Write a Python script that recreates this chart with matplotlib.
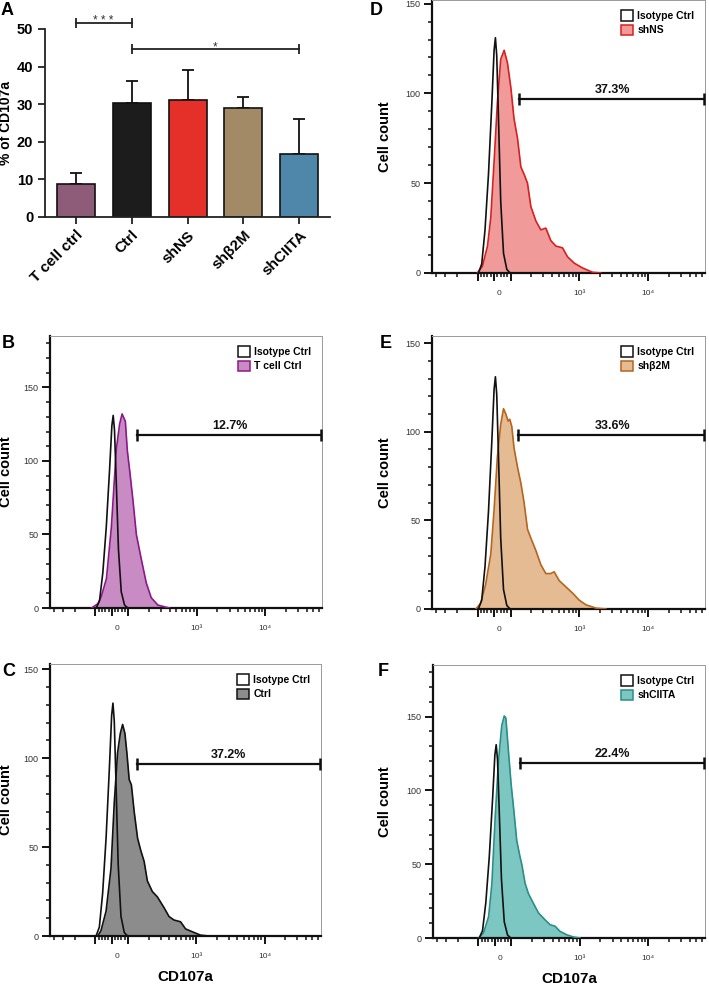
import matplotlib
matplotlib.use('Agg')
import matplotlib.pyplot as plt
import matplotlib.transforms as mtransforms
from matplotlib.patches import Patch
from matplotlib.ticker import FixedLocator, FixedFormatter

plt.rcParams['font.family'] = ['Liberation Sans', 'DejaVu Sans']

# ---- panel A: % CD107a+ T cells ----
groups = ['T cell ctrl', 'Ctrl', 'shNS', 'shβ2M', 'shCIITA']
pct_mean = [8.9, 30.2, 31.1, 29.0, 16.7]
pct_sd = [2.7, 6.1, 7.9, 2.9, 9.4]
bar_colors = ['#8e5b78', '#1c1c1c', '#e5302a', '#a38a66', '#4f87aa']

# ---- flow histograms (CD107a fluorescence, cell count) ----
iso_x = [-95, -75, -55, -34, -14, 0, 8, 16, 26, 40, 57, 77, 97]
iso_n = [0, 5, 24, 55, 94, 124, 131, 121, 88, 40, 11, 2, 0]

tcell_x = [-114, -84, -64, -33, -3, 27, 47, 62, 82, 94, 105, 117, 131, 155, 183, 216, 270, 358, 400]
tcell_n = [0, 3, 8, 20, 55, 108, 125, 132, 127, 107, 93, 73, 50, 33, 17, 7, 2, 0.5, 0]

ctrl_x = [-85, -65, -34, -4, 16, 36, 53, 67, 81, 93, 104, 112, 123, 138, 154, 172, 192, 227, 269,
          336, 398, 470, 588, 696, 870, 1150, 1521]
ctrl_n = [0, 3, 14, 38, 75, 103, 114, 119, 114, 103, 88, 85, 70, 55, 48, 42, 31, 25, 22,
          16, 11, 9, 8, 4, 2.4, 0.5, 0]

shns_x = [-101, -71, -40, -20, 0, 20, 40, 61, 81, 101, 112, 126, 141, 157, 176, 197, 233, 275,
          325, 385, 455, 569, 673, 841, 1112, 1555, 2056]
shns_n = [0, 3.7, 15, 31, 62, 95, 119, 124, 117, 103, 86, 75, 59, 55, 50, 37, 29, 24,
          25, 18, 15, 14, 9, 5.5, 2.8, 0.4, 0]

shb2m_x = [-106, -81, -51, -20, 0, 20, 40, 57, 71, 85, 95, 104, 112, 126, 141, 157, 176, 197,
           233, 275, 325, 385, 430, 509, 636, 795, 994, 1243, 1739, 2431]
shb2m_n = [0, 3.3, 14, 31, 56, 86, 104, 113, 110, 106, 107, 103, 91, 80, 71, 60, 45, 40,
           33, 25, 20, 20, 21, 16, 12.5, 9, 5, 2.4, 0.5, 0]

shciita_x = [-99, -69, -38, -18, 2, 22, 42, 57, 67, 83, 99, 108, 120, 134, 142, 159, 178, 210,
             249, 311, 368, 435, 514, 643, 804, 1006]
shciita_n = [0, 3.4, 14.5, 37, 82, 120, 144, 150.5, 149, 126, 104, 88, 66, 55, 50, 37, 30, 23.5,
             17, 12.3, 9, 8, 4.5, 2.2, 0.7, 0]

# gate: left edge, height, label
gate_lo = [135, 134, 133, 130, 134]
gate_y = [117.5, 96.6, 96.9, 98, 118.5]
gate_pct = ['12.7%', '37.2%', '37.3%', '33.6%', '22.4%']

fig = plt.figure(figsize=(7.09, 9.85), dpi=100)
W, H = 709.0, 985.0


def px_axes(left, top, right, bottom):
    return fig.add_axes([left / W, 1 - bottom / H, (right - left) / W, (bottom - top) / H])


# ---------------- panel A ----------------
axA = px_axes(45, 29, 330, 217)
xs = range(len(groups))
axA.bar(xs, pct_mean, width=0.68, color=bar_colors, edgecolor='#111111', linewidth=1.2, zorder=2)
axA.errorbar(xs, pct_mean, yerr=[[0] * len(pct_sd), pct_sd], fmt='none', ecolor='#111111',
             elinewidth=1.3, capsize=4.5, capthick=1.3, zorder=1)
axA.set_xlim(-0.55, 4.55)
axA.set_ylim(0, 50)
axA.set_yticks([0, 10, 20, 30, 40, 50])
axA.set_xticks(list(xs))
axA.set_xticklabels(groups, rotation=45, ha='right', rotation_mode='anchor',
                    fontsize=11, fontweight='bold')
for lab in axA.get_yticklabels():
    lab.set_fontweight('bold')
    lab.set_fontsize(10.5)
axA.tick_params(axis='both', direction='out', length=5, width=1.3, color='#222222')
axA.tick_params(axis='x', pad=3)
for s in ['top', 'right']:
    axA.spines[s].set_visible(False)
for s in ['left', 'bottom']:
    axA.spines[s].set_linewidth(1.3)
    axA.spines[s].set_color('#222222')
axA.set_ylabel('% of CD107a', fontsize=10, fontweight='bold')
axA.yaxis.set_label_coords(-0.112, 0.5)

# significance brackets
for (a, b, yy, txt) in [(0, 1, 51.6, '* * *'), (1, 4, 44.7, '*')]:
    axA.plot([a, b], [yy, yy], color='#222222', lw=1.3, marker='|', markersize=7,
             mew=1.3, clip_on=False)
    axA.text((a + b) / 2, yy - 0.3, txt, ha='center', va='baseline', fontsize=8.5,
             color='#333333', clip_on=False)

fig.text(1 / W, 1 - 2 / H, 'A', fontsize=13, fontweight='bold', va='top', ha='left')

# ---------------- flow panels ----------------
panels = [
    ('B', (50, 336, 322, 608), 185, tcell_x, tcell_n, '#c98bc4', '#8b1a89', 'T cell Ctrl', -0.136, False),
    ('C', (50, 664, 321, 936), 153, ctrl_x, ctrl_n, '#8c8c8c', '#111111', 'Ctrl', -0.136, True),
    ('D', (432, 0, 705, 273), 152, shns_x, shns_n, '#f09a9a', '#d8201f', 'shNS', -0.147, False),
    ('E', (432, 336, 705, 609), 154, shb2m_x, shb2m_n, '#e5bb94', '#b5651d', 'shβ2M', -0.147, False),
    ('F', (433, 665, 705, 938), 185, shciita_x, shciita_n, '#7cc7c2', '#2b8e89', 'shCIITA', -0.151, True),
]
letter_pos = {'B': (2, 335), 'C': (2, 663), 'D': (370, 2), 'E': (380, 335), 'F': (378, 663)}

x_minor = ([-400, -300, -200] + list(range(-80, 0, 20)) + list(range(20, 100, 20))
           + list(range(200, 1000, 100)) + list(range(2000, 10000, 1000))
           + list(range(20000, 70000, 10000)))

for i, (letter, box, ytop, hx, hn, fill, edge, name, ylab_x, show_xlabel) in enumerate(panels):
    ax = px_axes(*box)
    ax.set_xscale('symlog', linthresh=100, linscale=0.216)
    ax.fill_between(hx, hn, 0, color=fill, lw=0, zorder=2)
    ax.plot(hx, hn, color=edge, lw=1.2, zorder=3)
    ax.plot(iso_x, iso_n, color='#111111', lw=1.2, zorder=4)

    # gate
    ax.plot([gate_lo[i], 65000], [gate_y[i], gate_y[i]], color='#111111', lw=1.6,
            marker='|', markersize=8, mew=1.8, zorder=5)
    ax.text(3000, gate_y[i] + ytop * 0.012, gate_pct[i], ha='center', va='bottom',
            fontsize=9, fontweight='bold', color='#111111')

    ax.set_xlim(-460, 67000)
    ax.set_ylim(0, ytop)

    ax.xaxis.set_major_locator(FixedLocator([-100, 0, 100, 1000, 10000]))
    ax.xaxis.set_major_formatter(FixedFormatter(['', '0', '', '10³', '10⁴']))
    ax.xaxis.set_minor_locator(FixedLocator(x_minor))
    ax.yaxis.set_major_locator(FixedLocator([0, 50, 100, 150]))
    ax.yaxis.set_minor_locator(FixedLocator(list(range(10, int(ytop) + 1, 10))))
    ax.tick_params(axis='both', which='major', direction='out', length=5.5, width=1.4,
                   color='#111111', labelcolor='#333333')
    ax.tick_params(axis='x', which='major', labelsize=6, pad=7)
    ax.tick_params(axis='y', which='major', labelsize=6.5, pad=3)
    ax.tick_params(axis='both', which='minor', direction='out', length=3, width=1.1,
                   color='#111111')

    for s in ['left', 'bottom']:
        ax.spines[s].set_linewidth(1.6)
        ax.spines[s].set_color('#111111')
    for s in ['top', 'right']:
        ax.spines[s].set_linewidth(0.7)
        ax.spines[s].set_color('#9a9a9a')

    ax.set_ylabel('Cell count', fontsize=10.5, fontweight='bold')
    ax.yaxis.set_label_coords(ylab_x, 0.5)
    if show_xlabel:
        ax.set_xlabel('CD107a', fontsize=11, fontweight='bold', va='top')
        ax.xaxis.set_label_coords(0.5, -0.125)

    handles = [Patch(facecolor='white', edgecolor='#111111', lw=1.1, label='Isotype Ctrl'),
               Patch(facecolor=fill, edgecolor=edge, lw=1.1, label=name)]
    ax.legend(handles=handles, loc='upper right', frameon=False,
              prop={'size': 7.5, 'weight': 'bold'}, handlelength=1.15,
              handleheight=1.15, handletextpad=0.4, labelspacing=0.35,
              borderaxespad=0.7, borderpad=0.3)

    # the "0" label sits a little right of the zero tick in the original
    zero_tick = ax.xaxis.get_major_ticks()[1]
    zero_tick.label1.set_transform(zero_tick.label1.get_transform()
                                   + mtransforms.ScaledTranslation(5 / 100, 0, fig.dpi_scale_trans))

    lx, ly = letter_pos[letter]
    fig.text(lx / W, 1 - ly / H, letter, fontsize=13, fontweight='bold', va='top', ha='left')

plt.savefig('out.png', dpi=100)
